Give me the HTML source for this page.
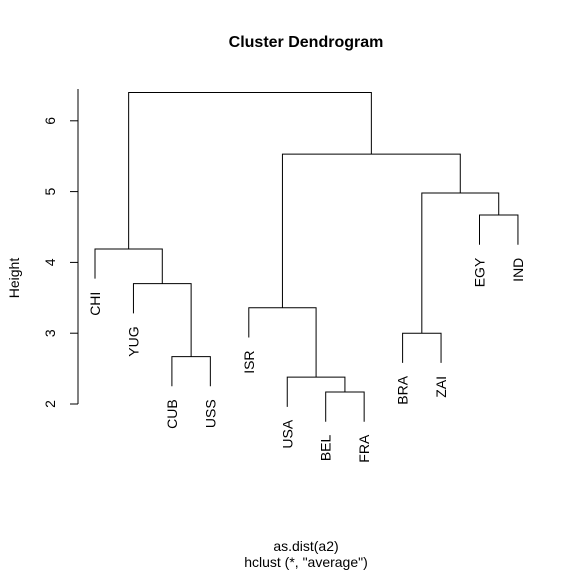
<!DOCTYPE html>
<html><head><meta charset="utf-8"><style>body{margin:0;background:#fff}svg{display:block;font-family:"Liberation Sans",sans-serif}</style></head>
<body>
<svg id="c" width="576" height="576" xmlns="http://www.w3.org/2000/svg">
<text x="306" y="47" text-anchor="middle" font-weight="bold" font-size="16">Cluster Dendrogram</text>
<text x="306" y="551" text-anchor="middle" font-size="14">as.dist(a2)</text>
<text x="306" y="567" text-anchor="middle" font-size="14">hclust (*, "average")</text>
<text transform="translate(19,278) rotate(-90)" text-anchor="middle" font-size="14">Height</text>
</svg>
<script>
const labels=["CHI","YUG","CUB","USS","ISR","USA","BEL","FRA","BRA","ZAI","EGY","IND"];
const ticks=[2,3,4,5,6];
// merges: [left, right, height]; negative = leaf index, positive = merge index (1-based)
const merges=[[-7,-8,2.17],[-6,1,2.38],[-3,-4,2.67],[-9,-10,3.0],[-5,2,3.36],[-2,3,3.70],[-1,6,4.19],[-11,-12,4.67],[4,8,4.98],[5,9,5.53],[7,10,6.40]];
const hang=0.42;
const svg=document.getElementById('c');const NS="http://www.w3.org/2000/svg";
const y=v=>404-(v-2)*70.8;
const x=i=>95+i*38.45;
function el(t,a){const e=document.createElementNS(NS,t);for(const k in a)e.setAttribute(k,a[k]);svg.appendChild(e);return e;}
const ax=el('line',{x1:78,x2:78,y1:y(2),y2:y(6.45),stroke:'#000'});


ticks.forEach(t=>{const l=el('line',{x1:70,x2:78,y1:y(t),y2:y(t),stroke:'#000'});


const tx=el('text',{transform:`translate(55,${y(t)}) rotate(-90)`,'text-anchor':'middle','font-size':14});


tx.textContent=t;});
const node=[];
function pos(r){if(r<0){const i=-r-1;return {x:x(i),h:null,i};}return node[r-1];}
merges.forEach(([a,b,h],k)=>{
 const A=pos(a),B=pos(b);
 const ya=A.h===null?h-hang:A.h, yb=B.h===null?h-hang:B.h;
 const p=el('path',{d:`M${A.x},${y(ya)}V${y(h)}H${B.x}V${y(yb)}`,fill:'none',stroke:'#000'});
 
 
 [[A,ya],[B,yb]].forEach(([N,yy])=>{if(N.h===null){
  const t=el('text',{transform:`translate(${N.x+5},${y(yy)+13}) rotate(-90)`,'text-anchor':'end','font-size':14});
  
  
  t.textContent=labels[N.i];}});
 node.push({x:(A.x+B.x)/2,h});
});
</script>
</body></html>
